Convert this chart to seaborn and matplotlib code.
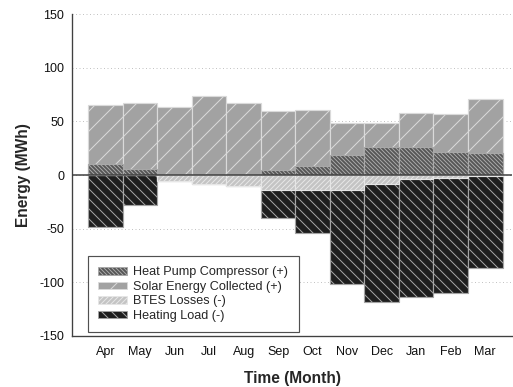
import matplotlib
matplotlib.use("Agg")
import matplotlib.pyplot as plt
import matplotlib.patches as mpatches
import numpy as np
import pandas as pd
import seaborn as sns

# Monthly energy balance of the borehole thermal energy storage system (MWh)
months = ["Apr", "May", "Jun", "Jul", "Aug", "Sep",
          "Oct", "Nov", "Dec", "Jan", "Feb", "Mar"]
compressor = [10.2, 5.6, 0.0, 0.0, 0.0, 4.7, 8.0, 18.6, 25.7, 25.7, 21.5, 20.3]
solar = [55.3, 61.4, 63.3, 73.6, 67.4, 54.6, 52.5, 29.7, 22.8, 32.1, 35.3, 50.5]
btes_losses = [0.0, 0.0, 5.3, 8.4, 10.6, 13.7, 14.0, 14.0, 8.0, 4.0, 3.0, 0.5]
heating_load = [48.8, 27.7, 0.0, 0.0, 0.0, 26.7, 40.0, 87.4, 110.3, 109.4, 106.6, 86.2]

labels = ["Heat Pump Compressor (+)", "Solar Energy Collected (+)",
          "BTES Losses (-)", "Heating Load (-)"]

df = pd.DataFrame({
    "month": months,
    "compressor": compressor,
    "solar": solar,
    "btes": btes_losses,
    "load": heating_load,
})
df["gain_total"] = df["compressor"] + df["solar"]
df["loss_total"] = -(df["btes"] + df["load"])
df["btes_neg"] = -df["btes"]

sns.set_theme(style="white")
plt.rcParams["font.family"] = ["Liberation Sans", "DejaVu Sans"]
plt.rcParams["axes.unicode_minus"] = False
plt.rcParams["hatch.linewidth"] = 0.6

# (face colour, hatch, hatch/edge colour)
styles = {
    "compressor": ("#555555", "\\" * 10, "#a8a8a8"),
    "solar": ("#a2a2a2", "//", "#dadada"),
    "btes": ("#c4c4c4", "/" * 8, "#e6e6e6"),
    "load": ("#1e1e1e", "\\" * 4, "#a4a4a4"),
}

DPI = 120
fig = plt.figure(figsize=(513 / DPI, 387 / DPI), dpi=DPI)
ax = fig.add_axes([0.1404, 0.1318, 0.858, 0.832])

# Stacked bars drawn back to front: totals first, inner segments on top
layers = [("gain_total", "solar"), ("compressor", "compressor"),
          ("loss_total", "load"), ("btes_neg", "btes")]
for col, key in layers:
    face, hatch, edge = styles[key]
    sns.barplot(data=df, x="month", y=col, order=months, width=1.0,
                color=face, saturation=1, hatch=hatch, edgecolor=edge,
                linewidth=0.7, ax=ax, zorder=2)

ax.axhline(0, color="#3c3c3c", linewidth=0.9, zorder=5)

ax.set_ylim(-150, 150)
ax.set_yticks(np.arange(-150, 151, 50))
ax.set_xlim(-0.972, 11.78)
ax.yaxis.grid(True, linestyle=(0, (1, 2.5)), color="#c4c4c4", linewidth=0.6)
ax.set_axisbelow(True)

for side in ["top", "right"]:
    ax.spines[side].set_visible(False)
for side in ["left", "bottom"]:
    ax.spines[side].set_color("#404040")
    ax.spines[side].set_linewidth(0.8)

ax.tick_params(axis="both", length=0, labelsize=7.5, colors="#111111")
ax.tick_params(axis="x", pad=6)
ax.tick_params(axis="y", pad=4.8)

ax.set_xlabel("Time (Month)", fontsize=9.3, fontweight="bold", labelpad=8)
ax.set_ylabel("Energy (MWh)", fontsize=9.3, fontweight="bold", labelpad=5)

handles = []
for key in ["compressor", "solar", "btes", "load"]:
    face, hatch, edge = styles[key]
    handles.append(mpatches.Patch(facecolor=face, hatch=hatch,
                                  edgecolor=edge, linewidth=0.5))
leg = ax.legend(handles, labels, loc="lower left",
                bbox_to_anchor=(0.036, 0.0124), fontsize=7.6,
                frameon=True, fancybox=False, edgecolor="#505050",
                framealpha=1, handlelength=2.25, handleheight=0.55,
                handletextpad=0.55, labelspacing=0.2, borderpad=0.8,
                borderaxespad=0)
leg.get_frame().set_linewidth(0.7)
leg.set_zorder(6)

fig.savefig("out.png", dpi=DPI)
